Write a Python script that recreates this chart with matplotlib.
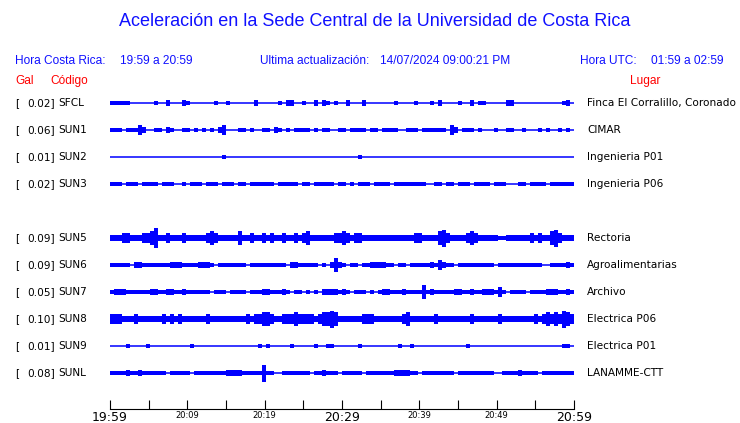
import numpy as np
import matplotlib.pyplot as plt

# estaciones (SUN4 no aparece, queda el hueco)
gal = ["0.02", "0.06", "0.01", "0.02", "0.09", "0.09", "0.05", "0.10", "0.01", "0.08"]
codigos = ["SFCL", "SUN1", "SUN2", "SUN3", "SUN5", "SUN6", "SUN7", "SUN8", "SUN9", "SUNL"]
lugares = ["Finca El Corralillo, Coronado", "CIMAR", "Ingenieria P01", "Ingenieria P06",
           "Rectoria", "Agroalimentarias", "Archivo", "Electrica P06", "Electrica P01",
           "LANAMME-CTT"]
fila = [0, 1, 2, 3, 5, 6, 7, 8, 9, 10]

# envolvente aproximada de cada traza (116 tramos en 60 minutos)
sfcl = [1,1,1,1,1,0,0,0,0,0, 0,1,0,0,2,0,0,0,2,1, 0,0,0,0,0,0,1,0,0,1, 0,0,0,0,0,0,2,0,0,0,
        0,0,1,0,2,2,0,0,1,0, 0,2,0,2,1,0,1,0,0,2, 0,0,0,2,0,0,0,0,0,0, 0,1,0,0,0,0,1,0,0,0,
        1,0,2,0,0,0,0,1,0,0, 2,0,1,1,0,0,0,0,0,2, 2,0,0,0,0,0,0,0,0,0, 0,0,0,1,2,0]
sun1 = [1,1,1,0,1,1,1,3,2,0, 0,1,1,0,2,1,0,0,1,1, 0,1,0,1,0,1,0,2,3,0, 0,0,1,1,0,1,0,0,1,1,
        0,2,1,0,1,0,1,1,1,1, 0,1,0,1,1,0,0,1,1,0, 1,1,1,1,0,1,1,0,1,1, 1,1,0,0,1,1,1,0,1,1,
        1,1,1,1,0,3,2,0,1,1, 1,0,1,0,0,0,1,0,0,1, 1,0,0,1,0,0,0,1,0,1, 0,0,1,0,1,0]
sun2 = [0,0,0,0,0,0,0,0,0,0, 0,0,0,0,0,0,0,0,0,0, 0,0,0,0,0,0,0,0,1,0, 0,0,0,0,0,0,0,0,0,0,
        0,0,0,0,0,0,0,0,0,0, 0,0,0,0,0,0,0,0,0,0, 0,0,1,0,0,0,0,0,0,0, 0,0,0,0,0,0,0,0,0,0,
        0,0,0,0,0,0,0,0,0,0, 0,0,0,0,0,0,0,0,0,0, 0,0,0,0,0,0,0,0,0,0, 0,0,0,0,0,0]
sun3 = [1,1,1,0,1,1,1,0,1,1, 1,1,0,1,1,1,0,0,1,0, 1,1,1,0,1,1,1,0,1,1, 1,0,1,1,0,1,1,1,1,1,
        1,0,1,1,1,1,1,0,1,1, 0,1,1,1,1,1,0,1,1,0, 1,0,1,1,1,0,1,1,1,1, 0,1,1,1,1,1,1,1,1,0,
        0,1,1,0,1,1,0,1,1,1, 0,1,1,1,1,0,1,1,1,0, 0,0,1,1,0,1,1,1,1,0, 1,1,1,1,1,1]
sun5 = [2,2,2,3,3,2,2,2,3,3, 4,6,2,2,3,2,2,2,3,2, 2,2,2,2,3,4,3,2,2,2, 2,2,4,2,2,3,2,2,3,2,
        3,2,2,3,2,2,3,2,3,4, 2,2,2,2,2,2,3,3,4,3, 2,3,3,2,2,2,2,2,2,2, 2,2,2,2,2,2,3,3,2,2,
        2,2,4,5,3,2,2,2,2,3, 4,3,2,2,2,2,2,1,1,2, 2,2,2,2,2,3,2,3,2,2, 4,5,3,2,2,2]
sun6 = [1,1,1,1,1,0,2,2,1,1, 1,1,1,1,1,2,2,2,1,1, 1,1,2,2,2,1,0,1,1,1, 1,1,1,1,0,1,1,1,1,1,
        1,1,1,1,0,2,2,1,1,1, 1,1,0,1,0,2,4,2,1,0, 1,1,0,1,1,2,2,2,2,1, 1,0,1,1,0,1,1,1,1,1,
        2,1,3,2,1,1,0,1,1,1, 1,1,1,1,1,1,0,1,1,1, 1,1,1,1,1,1,1,1,0,0, 1,1,1,1,2,1]
sun7 = [1,2,2,2,1,1,1,1,1,1, 2,2,1,1,2,2,1,1,2,1, 1,1,1,1,1,0,1,1,1,0, 1,1,1,1,0,1,1,1,2,2,
        1,1,1,2,1,0,1,1,0,1, 0,1,0,2,2,2,2,1,2,1, 0,1,1,1,0,1,0,1,2,2, 1,1,1,2,1,1,1,1,4,1,
        2,1,1,1,1,1,2,2,1,1, 2,1,1,2,2,2,1,3,1,0, 1,1,1,1,0,1,1,1,1,2, 2,2,1,1,2,1]
sun8 = [3,3,3,2,2,2,3,2,2,2, 2,2,2,3,2,3,2,3,2,2, 2,2,2,2,3,2,2,2,2,2, 2,2,2,2,3,2,3,3,4,4,
        3,2,2,3,3,3,4,3,3,3, 3,2,3,4,4,5,4,2,2,2, 2,2,2,3,3,3,2,2,2,2, 2,2,2,3,4,2,2,2,2,2,
        2,3,2,2,2,2,2,2,2,2, 3,2,2,2,2,2,2,3,2,2, 2,2,2,2,2,2,3,2,3,4, 3,4,3,5,4,3]
sun9 = [0,0,0,0,1,0,0,0,0,1, 0,0,0,0,0,0,0,0,0,0, 1,0,0,0,0,0,0,0,0,0, 0,0,0,0,0,0,0,1,0,1,
        0,0,0,0,0,1,0,0,0,0, 0,1,0,0,1,1,0,0,0,0, 0,0,1,0,0,0,0,0,0,0, 0,0,1,0,0,1,0,0,0,0,
        0,0,0,0,0,0,0,0,0,1, 0,0,0,0,0,0,0,0,0,0, 0,0,0,0,0,0,0,0,0,0, 0,0,0,1,1,0]
sunl = [1,1,1,1,2,1,1,2,1,1, 1,1,1,1,0,1,1,1,1,1, 0,1,1,1,1,1,1,1,1,2, 2,2,2,1,1,1,1,1,5,1,
        1,0,0,1,1,1,1,1,1,1, 0,1,1,2,1,1,1,0,1,1, 1,1,1,0,1,1,1,1,1,1, 1,2,2,2,2,1,1,0,1,1,
        1,1,1,1,1,1,0,1,1,1, 1,1,1,1,1,1,0,0,1,1, 1,1,2,1,1,1,1,0,1,1, 1,1,1,1,1,1]
trazas = [sfcl, sun1, sun2, sun3, sun5, sun6, sun7, sun8, sun9, sunl]

ticks_min = [0, 5, 10, 15, 20, 25, 30, 35, 40, 45, 50, 55, 60]
tick_labels = ["19:59", "", "20:09", "", "20:19", "", "20:29", "", "20:39", "", "20:49", "", "20:59"]

azul = "#1010ff"
W, H = 740, 423
fig = plt.figure(figsize=(7.4, 4.23), dpi=100)

def ftext(x, y, s, **kw):
    fig.text(x / W, 1 - y / H, s, va="center", **kw)

# encabezado
ftext(375, 22, "Aceleración en la Sede Central de la Universidad de Costa Rica",
      ha="center", color=azul, fontsize=13, family="Liberation Sans")
hdr = dict(color=azul, fontsize=8.6, family="Liberation Sans")
ftext(15, 61, "Hora Costa Rica:", **hdr)
ftext(120, 61, "19:59 a 20:59", **hdr)
ftext(260, 61, "Ultima actualización:", **hdr)
ftext(380, 61, "14/07/2024 09:00:21 PM", **hdr)
ftext(580, 61, "Hora UTC:", **hdr)
ftext(651, 61, "01:59 a 02:59", **hdr)
ftext(15, 81, "Gal", color="red", fontsize=8.6, family="Liberation Sans")
ftext(50, 81, "Código", color="red", fontsize=8.6, family="Liberation Sans")
ftext(630, 81, "Lugar", color="red", fontsize=8.6, family="Liberation Sans")

# trazas
ax = fig.add_axes([110 / W, (H - 409) / H, 464 / W, 319 / H])
ax.set_xlim(0, 60)
ax.set_ylim(409, 90)
bordes = np.linspace(0, 60, 117)
px = 1.7  # pixeles por nivel de amplitud
for k in range(len(codigos)):
    yc = 103 + 27 * fila[k]
    a = np.append(trazas[k], trazas[k][-1]) * px
    ax.fill_between(bordes, yc - a, yc + a, step="post", color="blue", lw=0)
    ax.plot([0, 60], [yc, yc], color="blue", lw=1.1)
    lab = dict(fontsize=7.6, color="black", family="DejaVu Sans")
    ftext(15, yc, "[", **lab)
    ftext(55, yc, gal[k] + "]", ha="right", **lab)
    ftext(58, yc, codigos[k], **lab)
    ftext(587, yc, lugares[k], **lab)

for s in ["top", "right", "left"]:
    ax.spines[s].set_visible(False)
ax.set_yticks([])
ax.set_xticks(ticks_min)
ax.set_xticklabels(tick_labels)
ax.tick_params(axis="x", direction="in", length=6.5, width=0.8, pad=1.5)
for i, t in enumerate(ax.get_xticklabels()):
    t.set_fontsize(9 if ticks_min[i] % 30 == 0 else 6)

fig.savefig("out.png", dpi=100)
